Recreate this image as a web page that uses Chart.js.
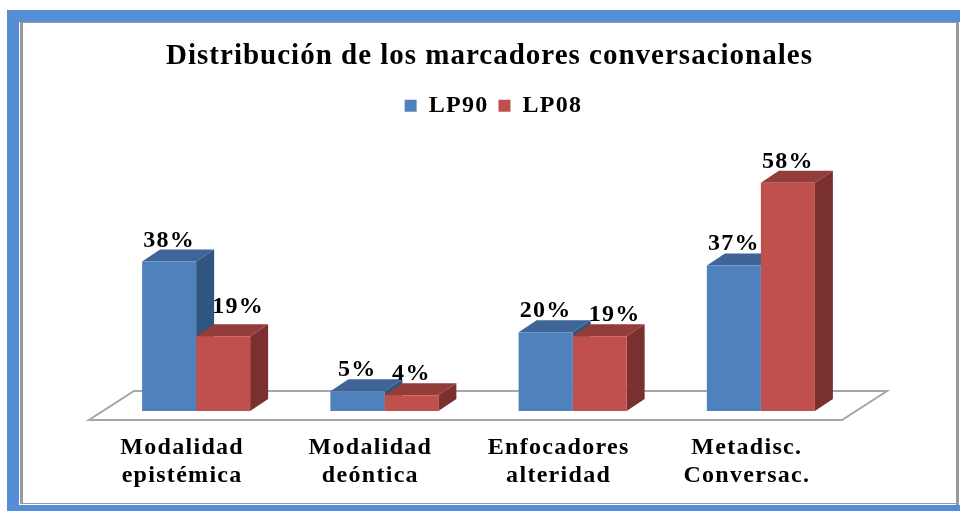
<!DOCTYPE html>
<html>
<head>
<meta charset="utf-8">
<style>
  html, body { margin: 0; background: #fff; }
  canvas { display: block; }
</style>
<script src="https://cdn.jsdelivr.net/npm/chart.js@4"></script>
</head>
<body>
<canvas id="marcadoresChart" width="960" height="511"></canvas>
<script>
const categories = [['Modalidad', 'epistémica'], ['Modalidad', 'deóntica'], ['Enfocadores', 'alteridad'], ['Metadisc.', 'Conversac.']];
const lp90 = [38, 5, 20, 37];
const lp08 = [19, 4, 19, 58];

const serif = '"Liberation Serif", serif';
const spacing = '1.3px';
const depthX = 18, depthY = 12;
const colors = [
    { front: '#4f81bd', top: '#3e6596', side: '#30557f' },
    { front: '#c0504d', top: '#943c39', side: '#7a302e' }
];

function poly(ctx, pts, fill) {
    ctx.beginPath();
    pts.forEach((p, i) => i ? ctx.lineTo(p[0], p[1]) : ctx.moveTo(p[0], p[1]));
    ctx.closePath();
    ctx.fillStyle = fill;
    ctx.fill();
}

// frame, floor and the 3d faces of the bars, Chart.js only does the flat front
const extras = {
    id: 'extras',
    beforeLayout(chart) {
        chart.ctx.letterSpacing = spacing;
    },
    afterLayout(chart) {
        chart.titleBlock.left += 11;
        chart.titleBlock.right += 11;
        chart.legend.left += 15;
        chart.legend.right += 15;
    },
    beforeDraw(chart) {
        const ctx = chart.ctx;
        ctx.letterSpacing = spacing;
        ctx.fillStyle = '#558ed5';
        ctx.fillRect(7, 10, 953, 501);
        ctx.fillStyle = '#fff';
        ctx.fillRect(19, 22, 941, 483);
        ctx.fillStyle = '#9a9a9a';
        ctx.fillRect(20, 22, 3, 482);
        ctx.fillRect(956, 22, 3, 483);
        ctx.fillRect(20, 22, 938, 1);
        ctx.fillRect(20, 503, 938, 1);
    },
    beforeDatasetsDraw(chart) {
        const ctx = chart.ctx;
        const x = chart.scales.x, base = chart.scales.y.getPixelForValue(0);
        ctx.save();
        ctx.strokeStyle = '#a6a6a6';
        ctx.lineWidth = 2;
        ctx.beginPath();
        ctx.moveTo(x.left - 13, base + 9);
        ctx.lineTo(x.right - 13, base + 9);
        ctx.lineTo(x.right + 32, base - 20);
        ctx.lineTo(x.left + 32, base - 20);
        ctx.closePath();
        ctx.stroke();
        chart.data.datasets.forEach((ds, i) => {
            chart.getDatasetMeta(i).data.forEach(bar => {
                const l = bar.x - bar.width / 2, r = bar.x + bar.width / 2;
                poly(ctx, [[r, bar.y], [r + depthX, bar.y - depthY], [r + depthX, bar.base - depthY], [r, bar.base]], colors[i].side);
                poly(ctx, [[l, bar.y], [l + depthX, bar.y - depthY], [r + depthX, bar.y - depthY], [r, bar.y]], colors[i].top);
            });
        });
        ctx.restore();
    },
    afterDatasetsDraw(chart) {
        const ctx = chart.ctx;
        ctx.save();
        ctx.font = 'bold 24px ' + serif;
        ctx.fillStyle = '#000';
        ctx.textAlign = 'center';
        ctx.textBaseline = 'alphabetic';
        chart.data.datasets.forEach((ds, i) => {
            chart.getDatasetMeta(i).data.forEach((bar, j) => {
                // the two 19% labels were moved by hand in the original
                const dx = ds.data[j] === 19 ? 15 : 0;
                const dy = ds.data[j] === 19 && j === 0 ? 23 : 15;
                ctx.fillText(ds.data[j] + '%', bar.x + dx, bar.y - dy);
            });
        });
        ctx.restore();
    }
};

const chart = new Chart(document.getElementById('marcadoresChart'), {
    type: 'bar',
    data: {
        labels: categories,
        datasets: [
            { label: 'LP90', data: lp90, backgroundColor: colors[0].front },
            { label: 'LP08', data: lp08, backgroundColor: colors[1].front }
        ]
    },
    options: {
        responsive: false,
        animation: false,
        layout: { padding: { left: 102, right: 105, top: 0, bottom: 0 } },
        datasets: { bar: { barPercentage: 1, categoryPercentage: 0.574, borderWidth: 0 } },
        plugins: {
            title: {
                display: true,
                text: 'Distribución de los marcadores conversacionales',
                color: '#000',
                font: { family: serif, size: 29, weight: 'bold' },
                padding: { top: 39, bottom: 10 }
            },
            legend: {
                position: 'top',
                labels: {
                    color: '#000',
                    font: { family: serif, size: 24, weight: 'bold' },
                    boxWidth: 12,
                    boxHeight: 12,
                    padding: 10
                }
            },
            tooltip: { enabled: false }
        },
        scales: {
            x: {
                grid: { display: false, drawTicks: false },
                border: { display: false },
                afterFit(scale) { scale.height = 100; },
                ticks: {
                    color: '#000',
                    maxRotation: 0,
                    autoSkip: false,
                    labelOffset: -14,
                    padding: 23,
                    font: { family: serif, size: 24, weight: 'bold', lineHeight: 1.17 }
                }
            },
            y: { display: false, min: 0, max: 72 }
        }
    },
    plugins: [extras]
});

// title is stretched less than the rest of the text
const drawTitle = chart.titleBlock.draw;
chart.titleBlock.draw = function () {
    chart.ctx.letterSpacing = '1px';
    drawTitle.call(this);
    chart.ctx.letterSpacing = spacing;
};
chart.draw();
</script>
</body>
</html>
